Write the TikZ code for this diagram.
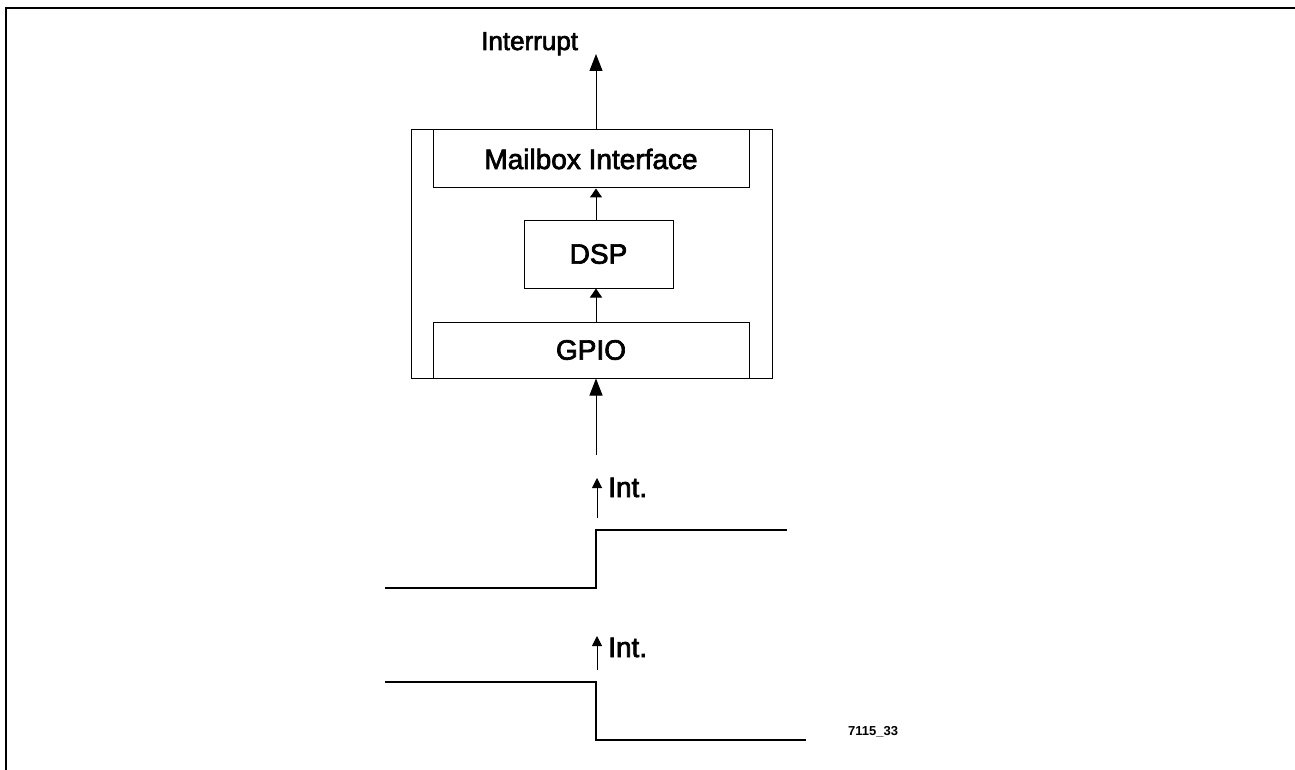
\documentclass[tikz,border=0pt]{standalone}
\usepackage{fontspec}
\setmainfont{Liberation Sans}
\newfontfamily\heavy{Liberation Sans}[FakeBold=2.5]
\usetikzlibrary{arrows.meta}
\begin{document}
\begin{tikzpicture}[x=1pt,y=-1pt,
  box/.style={draw,line width=1pt,inner sep=0pt,font=\heavy\fontsize{28}{30}\selectfont},
  bigarr/.style={line width=1pt,-{Triangle[length=17pt,width=13pt]}},
  midarr/.style={line width=1pt,-{Triangle[length=9pt,width=12pt]}},
  smallarr/.style={line width=1pt,-{Triangle[length=10pt,width=10pt]}},
  wave/.style={line width=1.2pt},
  lbl/.style={inner sep=0pt,anchor=base west,font=\heavy\fontsize{26}{28}\selectfont},
  intlbl/.style={inner sep=0pt,anchor=base west,font=\heavy\fontsize{28}{30}\selectfont}]
\useasboundingbox (0,0) rectangle (1295,770);
% frame (top and left edges)
\draw[line width=2pt] (6,770) -- (6,8) -- (1295,8);
% boxes
\node[box,minimum width=361pt,minimum height=248pt] (outer) at (591.5,254) {};
\node[box,minimum width=316pt,minimum height=58pt] (mail) at (591,159) {Mailbox Interface};
\node[box,minimum width=149pt,minimum height=68pt] (dsp) at (598.5,254) {DSP};
\node[box,minimum width=316pt,minimum height=56pt] (gpio) at (591,350) {GPIO};
\coordinate (ax) at (596,0);
% interrupt output
\coordinate (itop) at (596,54);
\node[lbl] (intr) at (481,50) {Interrupt};
\draw[bigarr] (mail.north -| ax) -- (itop);
\draw[midarr] (dsp.north -| ax) -- (mail.south -| ax);
\draw[midarr] (gpio.north -| ax) -- (dsp.south -| ax);
\coordinate (in) at (596,455);
\draw[bigarr] (in) -- (gpio.south -| ax);
% first waveform (rising edge)
\coordinate (w1a) at (385,588);
\coordinate (w1b) at (596,588);
\coordinate (w1c) at (596,530);
\coordinate (w1d) at (787,530);
\draw[wave] (w1a) -- (w1b) -- (w1c) -- (w1d);
\coordinate (i1s) at (597,518);
\coordinate (i1t) at (597,478);
\draw[smallarr] (i1s) -- (i1t);
\node[intlbl] (int1) at (608,497) {Int.};
% second waveform (falling edge)
\coordinate (w2a) at (385,682);
\coordinate (w2b) at (596,682);
\coordinate (w2c) at (596,740);
\coordinate (w2d) at (806,740);
\draw[wave] (w2a) -- (w2b) -- (w2c) -- (w2d);
\coordinate (i2s) at (597,670);
\coordinate (i2t) at (597,636);
\draw[smallarr] (i2s) -- (i2t);
\node[intlbl] (int2) at (608,657) {Int.};
% figure id
\node[inner sep=0pt,anchor=base west,font=\fontsize{13}{15}\selectfont\bfseries] (fid) at (848,735) {7115\_33};
\end{tikzpicture}
\end{document}
